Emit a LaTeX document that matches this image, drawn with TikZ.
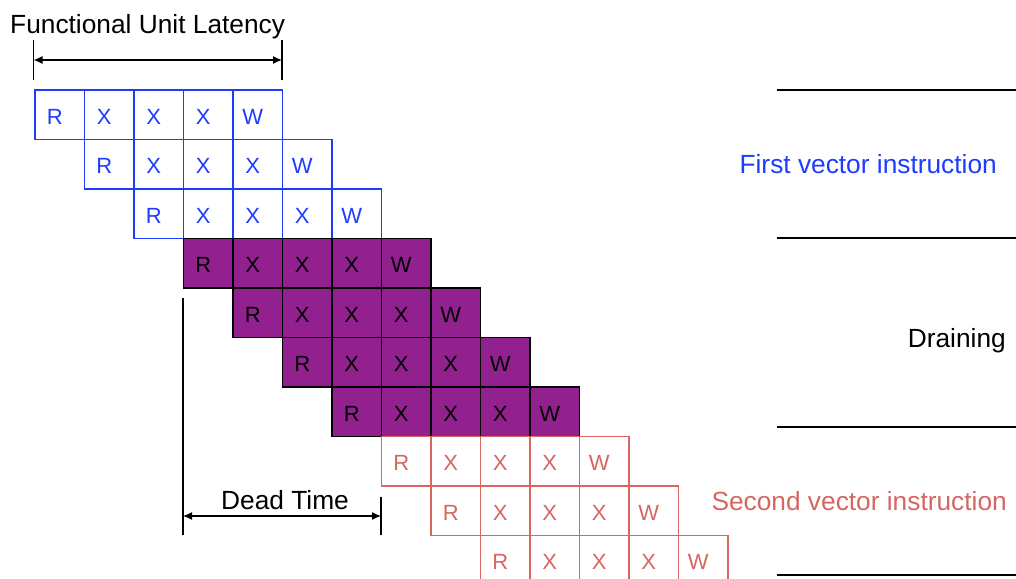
\documentclass[tikz,border=0pt]{standalone}
\usepackage{fontspec}
\setmainfont{Liberation Sans}
\usetikzlibrary{arrows.meta,positioning,calc}
\definecolor{firstblue}{RGB}{30,60,255}
\definecolor{drainpurple}{RGB}{146,32,143}
\definecolor{secondred}{RGB}{214,102,96}

\begin{document}
\begin{tikzpicture}[x=1pt,y=1pt,
    cell/.style={draw, line width=1.2pt, minimum size=49.5pt, inner sep=0pt,
                 text height=18.8pt, text depth=0pt,
                 font=\fontsize{22}{22}\selectfont, execute at begin node={\hspace*{-10pt}}},
    firstcell/.style={cell, draw=firstblue, text=firstblue},
    draincell/.style={cell, draw=black, fill=drainpurple, text=black},
    secondcell/.style={cell, draw=secondred, text=secondred},
    label/.style={font=\fontsize{26.3}{26.3}\selectfont, inner sep=0pt},
    span/.style={line width=1.3pt, {Latex[length=9pt,width=8pt]}-{Latex[length=9pt,width=8pt]}}]
\useasboundingbox (0,0) rectangle (1016,-578);
\clip (0,0) rectangle (1016,-578);

% Pipeline rows: R X X X W, each shifted one stage
\foreach \r in {0,...,9} {
    \ifnum\r<3 \def\kind{firstcell}\else
    \ifnum\r<7 \def\kind{draincell}\else \def\kind{secondcell}\fi\fi
    \foreach \c/\stage in {0/R, 1/X, 2/X, 3/X, 4/W} {
        \node[\kind] (c-\r-\c) at ({35+49.5*(\r+\c)+24.75},{-(90+49.5*\r+24.75)}) {\stage};
    }
}

% Functional unit latency
\node[label, anchor=west] (latency) at (10,-27) {Functional Unit Latency};
\coordinate (lat-l) at (33.5,-60);
\coordinate (lat-r) at (282,-60);
\draw[line width=1.3pt] (33.5,-40) -- (33.5,-80);
\draw[line width=1.3pt] (282,-40) -- (282,-80);
\draw[span] (lat-l) -- (lat-r);

% Dead time
\draw[line width=1.1pt] (183,-298) -- (183,-535);
\draw[line width=1.1pt] (381,-497) -- (381,-535);
\coordinate (dead-l) at (183,-516);
\coordinate (dead-r) at (381,-516);
\draw[span] (dead-l) -- (dead-r);
\node[label, anchor=south] (dead) at (285,-510) {Dead Time};

% Phase separators and labels
\foreach \y in {90, 238, 427, 575} {
    \draw[line width=1.3pt] (777,-\y) -- (1016,-\y);
}
\node[label, anchor=east, text=firstblue] (first) at (997,-164) {First vector instruction};
\node[label, anchor=east] (drain) at (1006,-341) {Draining};
\node[label, anchor=east, text=secondred] (second) at (1007,-501) {Second vector instruction};

\end{tikzpicture}
\end{document}
